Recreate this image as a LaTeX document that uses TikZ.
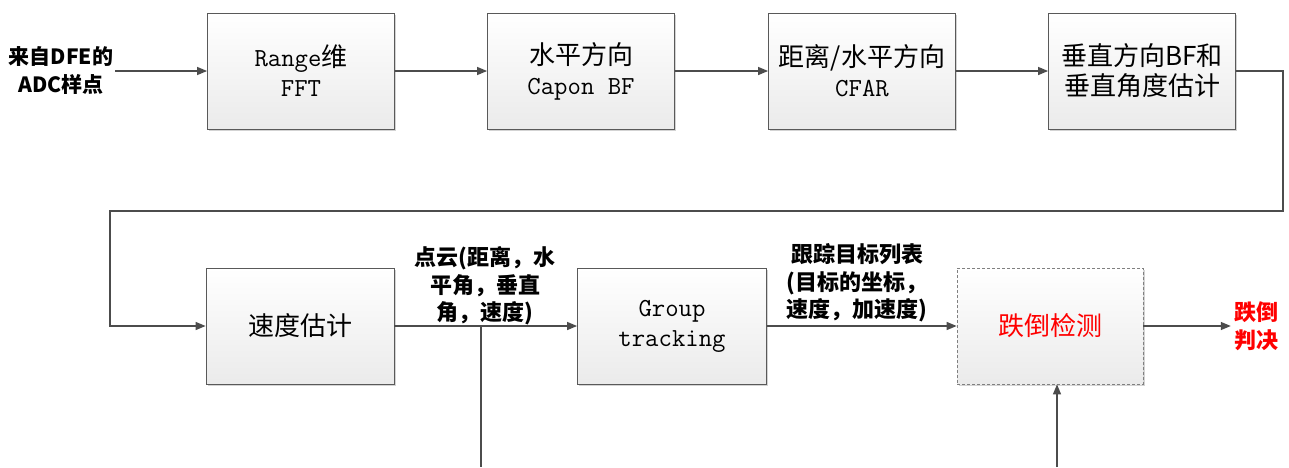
\documentclass[tikz,border=0pt]{standalone}
\usepackage{fontspec}
\setmainfont{Noto Sans CJK SC}
\usetikzlibrary{arrows.meta,shadows}
\newcommand{\lat}[1]{{\fontsize{26}{30}\selectfont\ttfamily #1}}
\begin{document}
\begin{tikzpicture}[x=1pt,y=-1pt,
  blk/.style={draw=gray!70!black, line width=0.8pt, top color=white, bottom color=gray!16,
    minimum width=187pt, minimum height=116pt, align=center, inner sep=0pt,
    font=\fontsize{26}{30}\selectfont,
    drop shadow={shadow xshift=1.5pt,shadow yshift=-1.5pt,fill=gray,opacity=.35}},
  conn/.style={draw=black!70, line width=1.3pt, -{Triangle[length=10pt,width=8pt]}},
  wire/.style={draw=black!70, line width=1.3pt},
  lbl/.style={font=\fontsize{22}{27.5}\selectfont\bfseries, align=center, inner sep=0pt}]
\useasboundingbox (0,0) rectangle (1289,467);
% top row
\node[blk] (b1) at (301,71) {\lat{Range}维\\\lat{FFT}};
\node[blk] (b2) at (581,71) {水平方向\\\lat{Capon BF}};
\node[blk] (b3) at (862,71) {距离/水平方向\\\lat{CFAR}};
\node[blk] (b4) at (1142,71) {垂直方向BF和\\垂直角度估计};
% bottom row
\node[blk, minimum width=188pt] (b5) at (300,326) {速度估计};
\node[blk, minimum width=189pt] (b6) at (672,326) {\lat{Group}\\\lat{tracking}};
\node[blk, minimum width=186pt, draw=gray, dashed, dash pattern=on 3pt off 2pt, line width=0.7pt,
  text=red] (b7) at (1050,326) {跌倒检测};
% labels
\node[lbl, font=\fontsize{21}{28}\selectfont\bfseries] (in) at (61,71) {来自DFE的\\ADC样点};
\node[lbl] (l1) at (485,286) {点云(距离，水\\平角，垂直\\角，速度)};
\node[lbl] (l2) at (857,283) {跟踪目标列表\\(目标的坐标，\\速度，加速度)};
\node[lbl, text=red, inner sep=3pt] (out) at (1256,326) {跌倒\\判决};
% coordinates
\coordinate (r) at (1283,211);
\coordinate (l) at (110,211);
\coordinate (tap) at (481,326);
\coordinate (tapend) at (481,467);
\coordinate (inb) at (1057,467);
% connectors
\draw[conn] (in.east) ++(2,0) -- (b1.west);
\draw[conn] (b1) -- (b2);
\draw[conn] (b2) -- (b3);
\draw[conn] (b3) -- (b4);
\draw[conn] (b4.east) -| (r) -- (l) |- (b5.west);
\draw[conn] (b5) -- (b6);
\draw[wire] (tap) -- (tapend);
\draw[conn] (b6) -- (b7);
\draw[conn] (b7) -- (out.west);
\draw[conn] (inb) -- (inb |- b7.south);
\end{tikzpicture}
\end{document}
